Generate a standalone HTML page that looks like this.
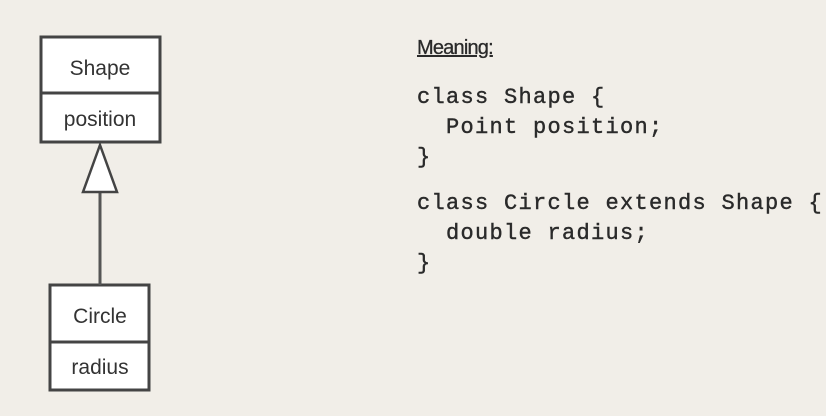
<!DOCTYPE html>
<html><head><meta charset="utf-8"><style>
body{margin:0;width:826px;height:416px;background:#f1eee8;position:relative;overflow:hidden;font-family:"Liberation Sans",sans-serif;}
.code{position:absolute;left:417px;font-family:"Liberation Mono",monospace;font-size:22px;letter-spacing:1.3px;color:#2a2a2a;white-space:pre;line-height:30px;-webkit-text-stroke:0.4px #2a2a2a;}
.m{position:absolute;left:417px;top:37px;font-size:20px;color:#2a2a2a;text-decoration:underline;letter-spacing:-0.8px;-webkit-text-stroke:0.3px #2a2a2a;}
</style></head><body>
<svg width="826" height="416" style="position:absolute;left:0;top:0" font-family="Liberation Sans, sans-serif">
<g stroke="#444" stroke-width="3" fill="#fff">
<rect x="41" y="37" width="119" height="105"/>
<line x1="41" y1="93" x2="160" y2="93"/>
<rect x="50" y="285" width="99" height="105"/>
<line x1="50" y1="342" x2="149" y2="342"/>
</g>
<line x1="100" y1="192" x2="100" y2="285" stroke="#555" stroke-width="3"/>
<polygon points="100,145 83,192 117,192" fill="#fff" stroke="#444" stroke-width="2.5"/>
<g fill="#333" font-size="21" text-anchor="middle">
<text x="100" y="75">Shape</text>
<text x="100" y="126">position</text>
<text x="100" y="323">Circle</text>
<text x="100" y="374">radius</text>
</g>
</svg>
<div class="m">Meaning:</div>
<div class="code" style="top:83px">class Shape {
  Point position;
}</div>
<div class="code" style="top:189px">class Circle extends Shape {
  double radius;
}</div>
</body></html>
